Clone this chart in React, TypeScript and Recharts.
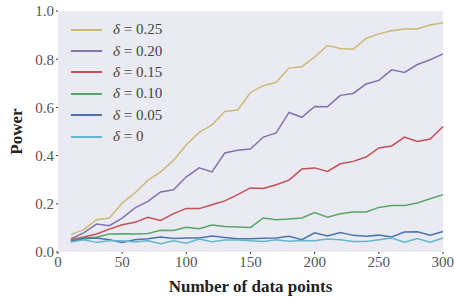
import { LineChart, Line, XAxis, YAxis, CartesianGrid, ReferenceArea } from 'recharts';

const N_POINTS = [10, 20, 30, 40, 50, 60, 70, 80, 90, 100, 110, 120, 130, 140, 150, 160, 170, 180, 190, 200, 210, 220, 230, 240, 250, 260, 270, 280, 290, 300];

const DELTA_025 = [0.072, 0.093, 0.134, 0.141, 0.203, 0.245, 0.297, 0.332, 0.38, 0.445, 0.496, 0.527, 0.583, 0.589, 0.662, 0.69, 0.704, 0.763, 0.769, 0.809, 0.857, 0.844, 0.841, 0.886, 0.905, 0.918, 0.925, 0.925, 0.942, 0.951];
const DELTA_020 = [0.054, 0.079, 0.116, 0.109, 0.141, 0.183, 0.21, 0.249, 0.258, 0.312, 0.349, 0.332, 0.411, 0.422, 0.427, 0.477, 0.494, 0.579, 0.559, 0.604, 0.603, 0.65, 0.658, 0.697, 0.712, 0.756, 0.745, 0.778, 0.798, 0.822];
const DELTA_015 = [0.051, 0.062, 0.075, 0.095, 0.113, 0.123, 0.144, 0.131, 0.159, 0.181, 0.18, 0.196, 0.212, 0.238, 0.266, 0.264, 0.279, 0.298, 0.344, 0.349, 0.334, 0.366, 0.376, 0.394, 0.432, 0.44, 0.477, 0.459, 0.469, 0.521];
const DELTA_010 = [0.047, 0.058, 0.061, 0.075, 0.076, 0.075, 0.077, 0.09, 0.089, 0.103, 0.097, 0.112, 0.106, 0.104, 0.102, 0.141, 0.134, 0.137, 0.141, 0.164, 0.144, 0.159, 0.166, 0.166, 0.185, 0.193, 0.193, 0.203, 0.221, 0.238];
const DELTA_005 = [0.044, 0.055, 0.058, 0.051, 0.04, 0.051, 0.055, 0.062, 0.056, 0.058, 0.058, 0.066, 0.06, 0.055, 0.055, 0.057, 0.058, 0.065, 0.051, 0.08, 0.066, 0.081, 0.069, 0.065, 0.07, 0.062, 0.083, 0.084, 0.07, 0.085];
const DELTA_000 = [0.041, 0.051, 0.04, 0.047, 0.047, 0.041, 0.047, 0.034, 0.047, 0.036, 0.054, 0.043, 0.05, 0.05, 0.047, 0.044, 0.051, 0.045, 0.048, 0.047, 0.054, 0.051, 0.044, 0.044, 0.051, 0.058, 0.041, 0.056, 0.041, 0.058];

const X_TICKS = [0, 50, 100, 150, 200, 250, 300];
const Y_TICKS = [0, 0.2, 0.4, 0.6, 0.8, 1.0];

// seaborn "deep" palette
const SERIES = [
  { key: 'd025', label: '0.25', values: DELTA_025, color: '#CCB974' },
  { key: 'd020', label: '0.20', values: DELTA_020, color: '#8172B2' },
  { key: 'd015', label: '0.15', values: DELTA_015, color: '#C44E52' },
  { key: 'd010', label: '0.10', values: DELTA_010, color: '#55A868' },
  { key: 'd005', label: '0.05', values: DELTA_005, color: '#4C72B0' },
  { key: 'd000', label: '0', values: DELTA_000, color: '#64B5CD' },
];

const data = N_POINTS.map((n, i) => {
  const row: Record<string, number> = { n };
  SERIES.forEach((s) => {
    row[s.key] = s.values[i];
  });
  return row;
});

const FONT = '"Liberation Serif", "DejaVu Serif", serif';
const TICK_STYLE = { fontSize: 15, fill: '#555', fontFamily: FONT };
const LABEL_STYLE = { fontFamily: FONT, fontSize: 17, fontWeight: 'bold', fill: '#222' };

function DeltaLegend() {
  return (
    <div style={{ position: 'absolute', left: 71, top: 19, fontFamily: FONT, fontSize: 15, color: '#444', lineHeight: 1 }}>
      {SERIES.map((s) => (
        <div key={s.key} style={{ display: 'flex', alignItems: 'center', height: 21.4 }}>
          <span style={{ display: 'inline-block', width: 31, height: 2, background: s.color, marginRight: 11 }} />
          <span>
            <i>δ</i> = {s.label}
          </span>
        </div>
      ))}
    </div>
  );
}

export default function App() {
  return (
    <div style={{ position: 'relative', width: 454, height: 297 }}>
      <style>{'body{margin:0}'}</style>
      <LineChart width={454} height={297} data={data} margin={{ top: 11, right: 11, left: 0, bottom: 0 }}>
        <ReferenceArea x1={0} x2={300} y1={0} y2={1} fill="#EAEAF2" fillOpacity={1} stroke="none" />
        <CartesianGrid stroke="#ffffff" strokeWidth={1.2} />
        <XAxis
          dataKey="n"
          type="number"
          domain={[0, 300]}
          ticks={X_TICKS}
          tick={TICK_STYLE}
          tickLine={{ stroke: '#333' }}
          tickSize={2}
          axisLine={false}
          height={45}
          label={{ value: 'Number of data points', position: 'insideBottom', offset: 5, style: LABEL_STYLE }}
        />
        <YAxis
          type="number"
          domain={[0, 1]}
          ticks={Y_TICKS}
          tick={TICK_STYLE}
          tickFormatter={(v: number) => v.toFixed(1)}
          tickLine={{ stroke: '#333' }}
          tickSize={2}
          axisLine={false}
          width={58}
          label={{ value: 'Power', angle: -90, position: 'insideLeft', offset: 16, style: { ...LABEL_STYLE, textAnchor: 'middle' } }}
        />
        {SERIES.map((s) => (
          <Line
            key={s.key}
            type="linear"
            dataKey={s.key}
            stroke={s.color}
            strokeWidth={1.5}
            dot={false}
            isAnimationActive={false}
          />
        ))}
      </LineChart>
      <DeltaLegend />
    </div>
  );
}
